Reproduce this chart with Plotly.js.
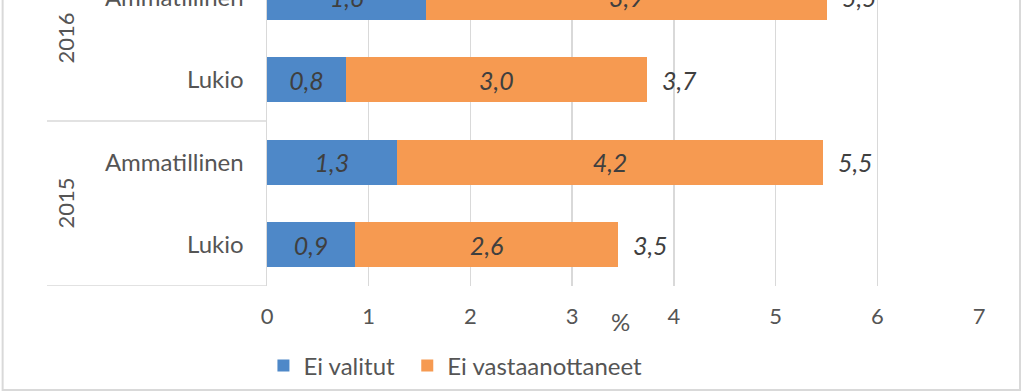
<!DOCTYPE html>
<html>
<head>
<meta charset="utf-8">
<script src="https://cdn.plot.ly/plotly-3.0.1.min.js"></script>
<style>
html, body { margin: 0; padding: 0; overflow: hidden; background: #fff; }
#chart { width: 1023px; height: 438px; margin-top: -46px; }
</style>
</head>
<body>
<div id="chart"></div>
<script>
// ---- data ----
const years = ["2015", "2015", "2016", "2016"];
const types = ["Lukio", "Ammatillinen", "Lukio", "Ammatillinen"];
const eiValitut = [0.865, 1.275, 0.777, 1.563];
const eiVastaanottaneet = [2.589, 4.195, 2.956, 3.940];
const seriesNames = ["Ei valitut", "Ei vastaanottaneet"];
const xTicks = [0, 1, 2, 3, 4, 5, 6, 7];

// ---- styling ----
const FONT = "Lato, 'Open Sans', sans-serif";
const GREY = "#555555";
const LABEL = "#3f3f3f";
const LINE = "#d9d9d9";
const colors = ["#4E88C8", "#F69A51"];

const cats = years.map((y, i) => y + " " + types[i]);
const totals = eiValitut.map((v, i) => v + eiVastaanottaneet[i]);
const fmt = v => v.toFixed(1).replace(".", ",");

const barText = {family: FONT, size: 25, color: LABEL, style: "italic"};

const traces = [
  {
    type: "bar", orientation: "h", name: seriesNames[0], legend: "legend",
    y: cats, x: eiValitut,
    marker: {color: colors[0], line: {width: 0}},
    texttemplate: "%{x:.1f}", textposition: "inside", insidetextanchor: "middle",
    textfont: barText, hoverinfo: "none"
  },
  {
    type: "bar", orientation: "h", name: seriesNames[1], legend: "legend2",
    y: cats, x: eiVastaanottaneet,
    marker: {color: colors[1], line: {width: 0}},
    texttemplate: "%{x:.1f}", textposition: "inside", insidetextanchor: "middle",
    textfont: barText, hoverinfo: "none"
  }
];

const annotations = [];
// total labels
totals.forEach((t, i) => {
  annotations.push({
    xref: "x", yref: "y", x: t, y: cats[i], text: fmt(t),
    xanchor: "left", yanchor: "middle", xshift: 13, showarrow: false,
    font: {family: FONT, size: 25, color: LABEL, style: "italic"}
  });
});
// year group labels & dividers
const uniqYears = [...new Set(years)];
const shapes = [];
uniqYears.forEach(y => {
  const idx = years.map((v, i) => v === y ? i : -1).filter(i => i >= 0);
  const lo = Math.min(...idx), hi = Math.max(...idx);
  annotations.push({
    xref: "paper", yref: "y", x: -0.2837, y: (lo + hi) / 2, text: y,
    textangle: -90, xanchor: "center", yanchor: "middle", showarrow: false,
    font: {family: FONT, size: 22, color: GREY}
  });
  shapes.push({
    type: "line", xref: "paper", yref: "y", x0: -0.309, x1: 0, y0: lo - 0.5, y1: lo - 0.5,
    line: {color: LINE, width: 1.5}
  });
});
// axis unit label
annotations.push({
  xref: "paper", yref: "paper", x: 0.4958, y: -0.109, text: "%",
  xanchor: "center", yanchor: "middle", showarrow: false,
  font: {family: FONT, size: 24, color: GREY}
});
// chart border
shapes.push({
  type: "rect", xref: "paper", yref: "paper", x0: -0.3713, x1: 1.0576, y0: -0.3152, y1: 1.3,
  line: {color: LINE, width: 2}, fillcolor: "rgba(0,0,0,0)"
});

const legendFont = {family: FONT, size: 24, color: GREY};

const layout = {
  width: 1023, height: 438,
  margin: {l: 267, r: 44, t: 2, b: 106},
  paper_bgcolor: "#fff", plot_bgcolor: "#fff",
  barmode: "stack", bargap: 0.455,
  separators: ",.",
  showlegend: true,
  legend: {
    orientation: "h", x: -0.005, xanchor: "left", y: -0.242, yanchor: "middle",
    font: legendFont, bgcolor: "rgba(0,0,0,0)"
  },
  legend2: {
    orientation: "h", x: 0.197, xanchor: "left", y: -0.242, yanchor: "middle",
    font: legendFont, bgcolor: "rgba(0,0,0,0)"
  },
  xaxis: {
    range: [0, 7], tickvals: xTicks, showgrid: true, gridcolor: LINE, gridwidth: 1.5,
    zeroline: false, showline: false, ticks: "", ticklabelstandoff: 15,
    tickfont: {family: FONT, size: 22, color: GREY}, fixedrange: true
  },
  yaxis: {
    type: "category", categoryorder: "array", categoryarray: cats,
    tickvals: cats, ticktext: types, range: [-0.5, 3.5],
    showgrid: false, zeroline: false, showline: true, linecolor: LINE, linewidth: 1.5,
    ticks: "", ticklabelstandoff: 17,
    tickfont: {family: FONT, size: 24, color: GREY}, fixedrange: true
  },
  annotations: annotations,
  shapes: shapes
};

Plotly.newPlot("chart", traces, layout, {displayModeBar: false, staticPlot: true});
</script>
</body>
</html>
